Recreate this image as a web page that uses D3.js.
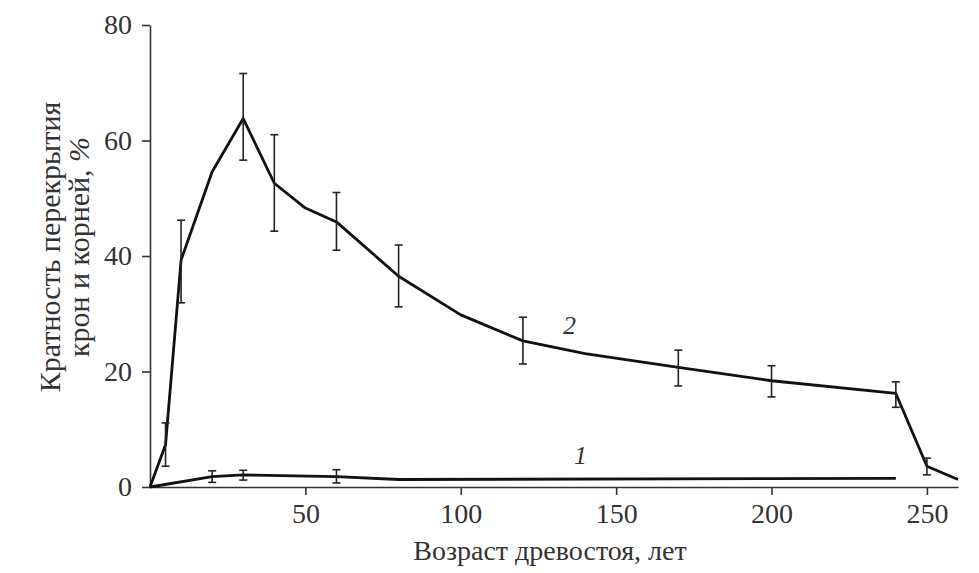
<!DOCTYPE html>
<html>
<head>
<meta charset="utf-8">
<script src="https://cdn.jsdelivr.net/npm/d3@7"></script>
<style>
  body { margin: 0; background: #fff; }
  svg { display: block; }
  .axis text { font-family: 'Liberation Serif', 'Times New Roman', serif; font-size: 28px; fill: #333; }
  .axis path, .axis line { stroke: #333; stroke-width: 1.6; }
</style>
</head>
<body>
<div id="chart"></div>
<script>
// age of the stand, years
const ages2 = [0, 5, 10, 20, 30, 40, 50, 60, 80, 100, 120, 140, 170, 200, 240, 250, 260];
const values2 = [0, 7.3, 39.3, 54.6, 63.8, 52.6, 48.3, 45.9, 36.5, 29.8, 25.3, 23.1, 20.7, 18.4, 16.2, 3.6, 1.3];
// error bars for curve 2: [age, low, high]
const errors2 = [
  [5, 3.6, 11.1], [10, 31.9, 46.2], [30, 56.6, 71.6], [40, 44.3, 61], [60, 41, 51],
  [80, 31.2, 41.9], [120, 21.3, 29.4], [170, 17.5, 23.7], [200, 15.6, 21], [240, 13.8, 18.2], [250, 2.1, 5]
];
const ages1 = [0, 20, 30, 60, 80, 240];
const values1 = [0, 1.8, 2.1, 1.8, 1.3, 1.5];
const errors1 = [[20, 0.8, 2.8], [30, 1.2, 2.9], [60, 0.7, 3.0]];

const xTicks = [50, 100, 150, 200, 250];
const yTicks = [0, 20, 40, 60, 80];

const config = {
  width: 979,
  height: 573,
  margin: { top: 25, right: 21, bottom: 86, left: 150 },
};
const innerW = config.width - config.margin.left - config.margin.right;
const innerH = config.height - config.margin.top - config.margin.bottom;

const svg = d3.select('#chart').append('svg')
  .attr('width', config.width)
  .attr('height', config.height);

const g = svg.append('g')
  .attr('transform', `translate(${config.margin.left},${config.margin.top})`);

const x = d3.scaleLinear().domain([0, 260]).range([0, innerW]);
const y = d3.scaleLinear().domain([0, 80]).range([innerH, 0]);

g.append('g')
  .attr('class', 'axis x-axis')
  .attr('transform', `translate(0,${innerH})`)
  .call(d3.axisBottom(x).tickValues(xTicks).tickSize(8).tickSizeOuter(0).tickPadding(8));

g.append('g')
  .attr('class', 'axis y-axis')
  .call(d3.axisLeft(y).tickValues(yTicks).tickSize(8).tickSizeOuter(0).tickPadding(10));

const line = d3.line().x((d) => x(d[0])).y((d) => y(d[1]));

function drawSeries(ages, values, errors) {
  const pts = ages.map((a, i) => [a, values[i]]);
  g.append('path')
    .datum(pts)
    .attr('d', line)
    .attr('fill', 'none')
    .attr('stroke', '#111')
    .attr('stroke-width', 2.8)
    .attr('stroke-linejoin', 'round');

  const eb = g.append('g').attr('stroke', '#222').attr('stroke-width', 1.6);
  errors.forEach(([a, lo, hi]) => {
    eb.append('line').attr('x1', x(a)).attr('x2', x(a)).attr('y1', y(lo)).attr('y2', y(hi));
    eb.append('line').attr('x1', x(a) - 4).attr('x2', x(a) + 4).attr('y1', y(lo)).attr('y2', y(lo));
    eb.append('line').attr('x1', x(a) - 4).attr('x2', x(a) + 4).attr('y1', y(hi)).attr('y2', y(hi));
  });
}

drawSeries(ages1, values1, errors1);
drawSeries(ages2, values2, errors2);

// curve numbers
g.append('text')
  .attr('x', x(135)).attr('y', y(26.5))
  .attr('text-anchor', 'middle')
  .style('font-family', 'Liberation Serif, serif').style('font-style', 'italic')
  .style('font-size', '26px').style('fill', '#333')
  .text('2');
g.append('text')
  .attr('x', x(138.5)).attr('y', y(4))
  .attr('text-anchor', 'middle')
  .style('font-family', 'Liberation Serif, serif').style('font-style', 'italic')
  .style('font-size', '26px').style('fill', '#333')
  .text('1');

// axis titles
svg.append('text')
  .attr('x', 550).attr('y', 560)
  .attr('text-anchor', 'middle')
  .style('font-family', 'Liberation Serif, serif').style('font-size', '28px').style('fill', '#333')
  .text('Возраст древостоя, лет');

const yTitle = svg.append('text')
  .attr('transform', 'translate(0,247) rotate(-90)')
  .attr('text-anchor', 'middle')
  .style('font-family', 'Liberation Serif, serif').style('font-size', '30px').style('fill', '#333');
yTitle.append('tspan').attr('x', 0).attr('y', 60).text('Кратность перекрытия');
yTitle.append('tspan').attr('x', 0).attr('y', 89).text('крон и корней, ')
  .append('tspan').style('font-style', 'italic').text('%');
</script>
</body>
</html>
